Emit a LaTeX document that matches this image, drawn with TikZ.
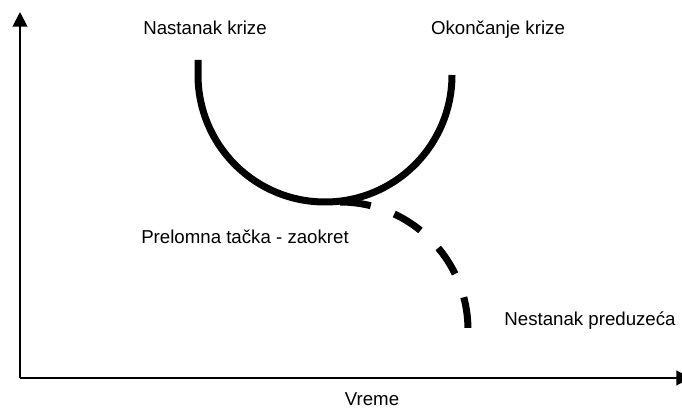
\documentclass[tikz,border=0pt]{standalone}
\usepackage{fontspec}
\setmainfont{Liberation Sans}
\usetikzlibrary{arrows.meta}
\begin{document}
\begin{tikzpicture}[x=0.75pt,y=0.75pt,
			every node/.style={font=\fontsize{14}{16.8}\selectfont,inner sep=0pt},
			axis/.style={line width=1.5pt,-{Triangle[length=11pt,width=11pt]}},
			crisis/.style={line width=5.25pt},
			label/.style={anchor=base}
			]
			\useasboundingbox (0,0) rectangle (682,411);
			\coordinate (origin) at (20,33);
			\coordinate (ytop) at (20,399);
			\coordinate (xend) at (691,33);
			\draw[axis] (origin) -- (ytop);
			\draw[axis] (origin) -- (xend);
			\draw[crisis] (198,351) -- (198,336) arc (180:360:127);
			\draw[crisis,dash pattern=on 23.25pt off 18.75pt] (340,209) arc (90:0:128);
			\node[label] (nastanak) at (205,376) {Nastanak krize};
			\node[label] (okoncanje) at (498,376) {Okončanje krize};
			\node[label] (prelomna) at (245,167) {Prelomna tačka - zaokret};
			\node[label] (nestanak) at (590,86) {Nestanak preduzeća};
			\node[label] (vreme) at (372,6) {Vreme};
		\end{tikzpicture}
\end{document}
